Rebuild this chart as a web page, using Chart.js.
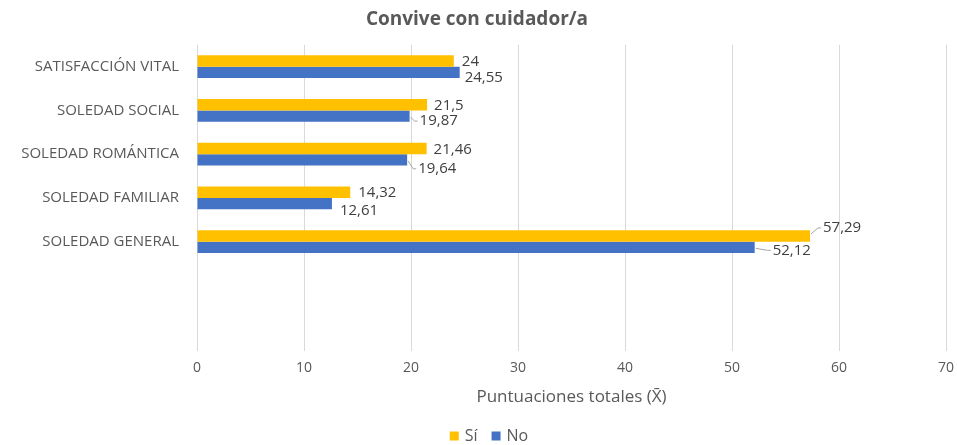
<!DOCTYPE html>
<html lang="es">
<head>
<meta charset="utf-8">
<title>Convive con cuidador/a</title>
<script src="https://cdn.jsdelivr.net/npm/chart.js@4.4.1/dist/chart.umd.min.js"></script>
<style>
  html, body { margin: 0; padding: 0; background: #fff; }
  #wrap { width: 957px; height: 445px; position: relative; }
</style>
</head>
<body>
<div id="wrap"><canvas id="chart"></canvas></div>
<script>
/* ── Datos ── */
const categorias = ['SATISFACCIÓN VITAL', 'SOLEDAD SOCIAL', 'SOLEDAD ROMÁNTICA', 'SOLEDAD FAMILIAR', 'SOLEDAD GENERAL', '', ''];
const valoresSi = [24, 21.5, 21.46, 14.32, 57.29];
const valoresNo = [24.55, 19.87, 19.64, 12.61, 52.12];
const xTicks = [0, 10, 20, 30, 40, 50, 60, 70];

/* desplazamiento de las etiquetas (px desde el extremo de la barra) */
const offsetsSi = [[8, 1], [7, 1], [7, 1], [8, 1], [13, -8]];
const offsetsNo = [[5, 5], [10, 5], [11, 9], [8, 7], [18, 3]];

const FONT = "'Open Sans', 'Noto Sans', sans-serif";
const GRAY = '#595959';

/* ── Etiquetas de datos con líneas guía ── */
const dataLabels = {
  id: 'dataLabels',
  afterDatasetsDraw(chart) {
    const ctx = chart.ctx;
    ctx.save();
    ctx.font = `15px ${FONT}`;
    ctx.fillStyle = '#404040';
    ctx.textBaseline = 'middle';
    ctx.textAlign = 'left';
    chart.data.datasets.forEach((ds, di) => {
      const offs = di === 0 ? offsetsSi : offsetsNo;
      chart.getDatasetMeta(di).data.forEach((bar, i) => {
        const v = ds.data[i];
        if (v == null) return;
        const [dx, dy] = offs[i];
        const tx = bar.x + dx, ty = bar.y + dy;
        if (dx >= 10 || Math.abs(dy) >= 8) {
          ctx.strokeStyle = '#a6a6a6';
          ctx.lineWidth = 1;
          ctx.beginPath();
          ctx.moveTo(bar.x + 1, bar.y + (dy > 0 ? 1 : -2));
          ctx.lineTo(tx - 5, ty);
          ctx.lineTo(tx - 2, ty);
          ctx.stroke();
        }
        ctx.fillText(String(v).replace('.', ','), tx, ty);
      });
    });
    ctx.restore();
  }
};

/* ── Leyenda inferior ── */
const bottomLegend = {
  id: 'bottomLegend',
  afterDraw(chart) {
    const ctx = chart.ctx;
    const box = 9, gap = 6, between = 14;
    const cy = 436;
    ctx.save();
    ctx.font = `16px ${FONT}`;
    ctx.textBaseline = 'middle';
    ctx.textAlign = 'left';
    const items = chart.data.datasets.map(ds => ({ text: ds.label, color: ds.backgroundColor, w: ctx.measureText(ds.label).width }));
    const total = items.reduce((s, it) => s + box + gap + it.w, 0) + between * (items.length - 1);
    let x = 489 - total / 2;
    items.forEach(it => {
      ctx.fillStyle = it.color;
      ctx.fillRect(x, cy - box / 2, box, box);
      x += box + gap;
      ctx.fillStyle = GRAY;
      ctx.fillText(it.text, x, cy);
      x += it.w + between;
    });
    ctx.restore();
  }
};

new Chart(document.getElementById('chart'), {
  type: 'bar',
  data: {
    labels: categorias,
    datasets: [
      { label: 'Sí', data: valoresSi, backgroundColor: '#FFC000', barPercentage: 1, categoryPercentage: 0.52 },
      { label: 'No', data: valoresNo, backgroundColor: '#4472C4', barPercentage: 1, categoryPercentage: 0.52 },
    ],
  },
  options: {
    indexAxis: 'y',
    responsive: true,
    maintainAspectRatio: false,
    animation: false,
    layout: { padding: { top: 0, left: 8, right: 11, bottom: 24 } },
    plugins: {
      title: {
        display: true,
        text: 'Convive con cuidador/a',
        color: GRAY,
        font: { family: FONT, size: 19, weight: 'bold' },
        padding: { top: 8, bottom: 14 },
      },
      legend: { display: false },
      tooltip: { enabled: false },
    },
    scales: {
      x: {
        min: 0,
        max: 70,
        afterBuildTicks: s => { s.ticks = xTicks.map(v => ({ value: v })); },
        afterFit: s => { s.height = 70; s.paddingRight = 0; },
        grid: { color: '#d9d9d9', drawTicks: false },
        border: { display: false },
        ticks: { color: GRAY, font: { family: FONT, size: 14 }, padding: 9 },
        title: {
          display: true,
          text: 'Puntuaciones totales (X̄)',
          color: GRAY,
          font: { family: FONT, size: 17 },
          padding: { top: 0, bottom: 14 },
        },
      },
      y: {
        grid: { display: false },
        border: { display: false },
        ticks: { color: GRAY, font: { family: FONT, size: 15 }, padding: 10, autoSkip: false },
        afterFit: s => { s.width = 197 - 8; },
      },
    },
  },
  plugins: [dataLabels, bottomLegend],
});
</script>
</body>
</html>
